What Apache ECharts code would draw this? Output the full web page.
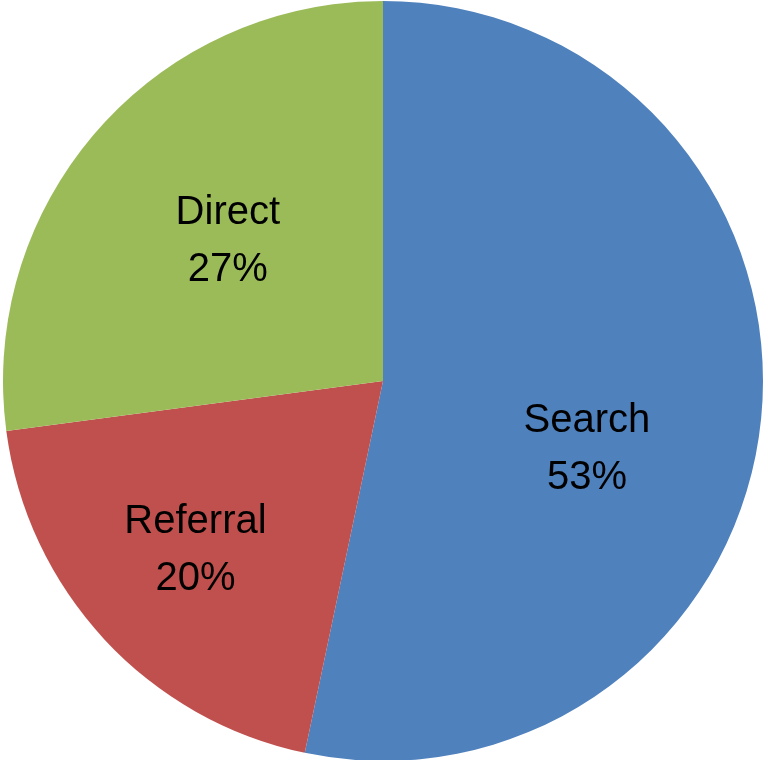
<!DOCTYPE html>
<html>
<head>
<meta charset="utf-8">
<script src="https://cdn.jsdelivr.net/npm/echarts@6/dist/echarts.min.js"></script>
<style>
html,body{margin:0;padding:0;background:#fff;}
#chart{width:765px;height:760px;}
</style>
</head>
<body>
<div id="chart"></div>
<script>
// 数据：流量来源
var categories = ['Search', 'Referral', 'Direct'];
var values = [53.3, 19.6, 27.1];
var colors = ['#4F81BD', '#C0504D', '#9BBB59'];
// 标签偏移（相对于扇区中点）
var labelOffsets = [[12, 48], [-46, 38], [-10, -12]];

var pieData = [];
for (var i = 0; i < categories.length; i++) {
    pieData.push({
        name: categories[i],
        value: values[i],
        itemStyle: {color: colors[i]},
        label: {offset: labelOffsets[i]}
    });
}

var myChart = echarts.init(document.getElementById('chart'));
var option = {
    backgroundColor: '#fff',
    animation: false,
    series: [
        {
            type: 'pie',
            center: [383, 381],
            radius: [0, 380],
            startAngle: 90,
            clockwise: true,
            percentPrecision: 0,
            emphasis: {disabled: true},
            itemStyle: {borderWidth: 0},
            label: {
                show: true,
                position: 'inside',
                formatter: '{b}\n{d}%',
                color: '#000',
                fontFamily: 'Liberation Sans',
                fontSize: 40,
                lineHeight: 57
            },
            labelLine: {show: false},
            data: pieData
        }
    ]
};
myChart.setOption(option, true);
</script>
</body>
</html>
